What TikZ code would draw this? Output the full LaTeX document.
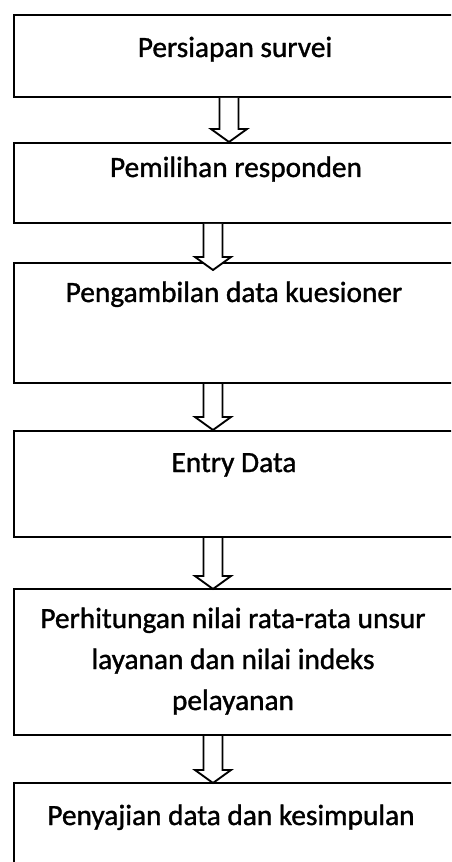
\documentclass[tikz,border=0pt]{standalone}
\usepackage{fontspec}
\setmainfont{Carlito}[RawFeature={embolden=1.2}]
\usetikzlibrary{calc}
% hollow block arrow: from, to, x offset, tip overshoot
\newcommand{\hollowarrow}[4]{%
  \draw[blockarrow] ($(#1.south)+(#3-9.5,0)$) -- ($(#2.north)+(#3-9.5,#4-13)$)
    -- ($(#2.north)+(#3-18,#4-13)$) -- ($(#2.north)+(#3,#4)$)
    -- ($(#2.north)+(#3+18,#4-13)$) -- ($(#2.north)+(#3+9.5,#4-13)$)
    -- ($(#1.south)+(#3+9.5,0)$);}
\begin{document}
\begin{tikzpicture}[x=0.75pt,y=-0.75pt,
  stepbox/.style={draw,line width=1.5pt,minimum width=331.5pt,inner sep=0pt},
  steptext/.style={anchor=base,inner sep=0pt,align=center,font=\fontsize{22}{30.75}\selectfont},
  blockarrow/.style={line width=1.4pt,line join=miter,fill=white}]
  \useasboundingbox (0,0) rectangle (451,862);
  \clip (0,0) rectangle (451,862);
  \node[stepbox,minimum height=61.5pt] (survei) at (235,56) {};
  \node[stepbox,minimum height=60pt] (responden) at (235,183) {};
  \node[stepbox,minimum height=90pt] (kuesioner) at (235,323) {};
  \node[stepbox,minimum height=79.5pt] (entry) at (235,484) {};
  \node[stepbox,minimum height=109.5pt] (hitung) at (235,662) {};
  \node[stepbox,minimum height=90pt] (sajian) at (235,843) {};
  \node[steptext] (survei-txt) at (235,57) {Persiapan survei};
  \node[steptext] (responden-txt) at (236,177) {Pemilihan responden};
  \node[steptext] (kuesioner-txt) at (234,302) {Pengambilan data kuesioner};
  \node[steptext] (entry-txt) at (234,472) {Entry Data};
  \node[steptext] (hitung-txt) at (233,710) {Perhitungan nilai rata-rata unsur\\layanan dan nilai indeks\\pelayanan};
  \node[steptext] (sajian-txt) at (231,825) {Penyajian data dan kesimpulan};
  \hollowarrow{survei}{responden}{-6}{0}
  \hollowarrow{responden}{kuesioner}{-22}{8}
  \hollowarrow{kuesioner}{entry}{-22}{0}
  \hollowarrow{entry}{hitung}{-22}{1}
  \hollowarrow{hitung}{sajian}{-22}{1}
\end{tikzpicture}
\end{document}
